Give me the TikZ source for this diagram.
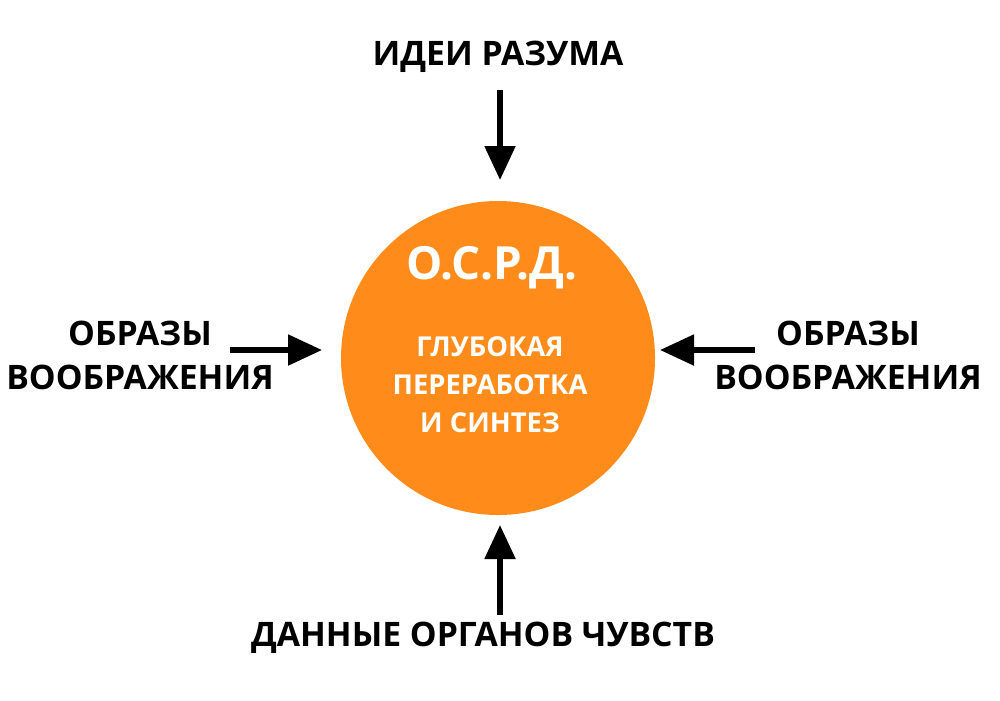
\documentclass[tikz,border=0pt]{standalone}
\usepackage{fontspec}
\setmainfont{Open Sans}
\usetikzlibrary{arrows.meta,positioning}
\definecolor{osrdorange}{HTML}{FF8C1A}
\tikzset{
  label/.style={font=\bfseries\fontsize{9.6}{12.5}\selectfont, align=center, text=black},
  feed/.style={line width=1.5pt, -{Triangle[length=0.34cm,width=0.3cm]}}
}
\begin{document}
\begin{tikzpicture}
\useasboundingbox (0,0) rectangle (10,7);

% central circle
\node[circle, fill=osrdorange, minimum size=3.14cm, inner sep=0pt] (core) at (4.98,3.42) {};
\node[font=\bfseries\fontsize{13}{15}\selectfont, text=white] (title) at (4.92,4.32) {О.С.Р.Д.};
\node[font=\bfseries\fontsize{7.8}{10.8}\selectfont, text=white, align=center] (body) at (4.9,3.15) {ГЛУБОКАЯ\\ПЕРЕРАБОТКА\\И СИНТЕЗ};

% inputs
\node[label] (ideas) at (4.98,6.43) {ИДЕИ РАЗУМА};
\node[label] (senses) at (4.83,0.62) {ДАННЫЕ ОРГАНОВ ЧУВСТВ};
\node[label] (left) at (1.40,3.45) {ОБРАЗЫ\\ВООБРАЖЕНИЯ};
\node[label] (right) at (8.48,3.45) {ОБРАЗЫ\\ВООБРАЖЕНИЯ};

\coordinate (topA) at (5.0,6.10); \coordinate (topB) at (5.0,5.20);
\coordinate (botA) at (5.0,0.85); \coordinate (botB) at (5.0,1.75);
\coordinate (lA) at (2.30,3.50); \coordinate (lB) at (3.22,3.50);
\coordinate (rA) at (7.55,3.50); \coordinate (rB) at (6.60,3.50);
\draw[feed] (topA) -- (topB);
\draw[feed] (botA) -- (botB);
\draw[feed] (lA) -- (lB);
\draw[feed] (rA) -- (rB);
\end{tikzpicture}
\end{document}
